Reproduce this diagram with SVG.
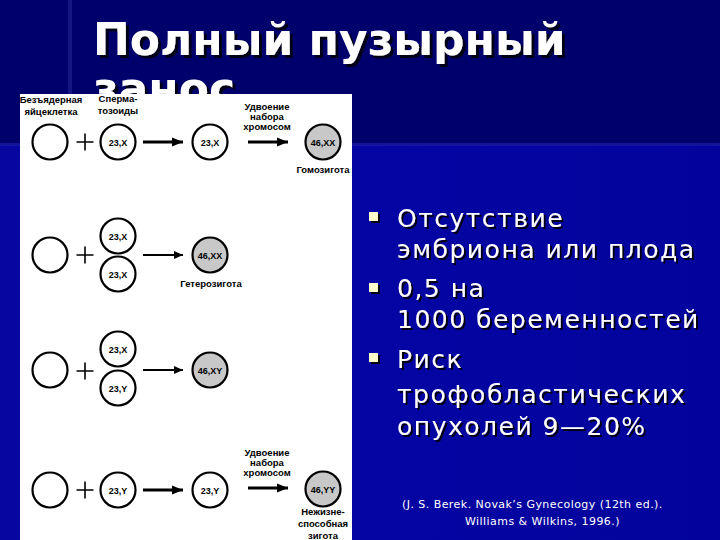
<svg xmlns="http://www.w3.org/2000/svg" width="720" height="540" viewBox="0 0 720 540">
<defs>
<style>
.t{font-family:"Liberation Sans",Arial,sans-serif;font-weight:bold;font-size:9.5px;fill:#000;text-anchor:middle}
.c{font-family:"Liberation Sans",Arial,sans-serif;font-weight:bold;font-size:9px;fill:#000;text-anchor:middle}
.cell{fill:#fff;stroke:#000;stroke-width:2.2}
.z{fill:#c8c8c8;stroke:#000;stroke-width:2.2}
.plus{stroke:#000;stroke-width:1.6}
.thick{stroke:#000;stroke-width:3;fill:none}
.thin{stroke:#000;stroke-width:2;fill:none}
.title{font-family:"DejaVu Sans",Verdana,sans-serif;font-weight:bold;font-size:44px;fill:#fff}
.b{font-family:"DejaVu Sans",Verdana,sans-serif;font-size:25px;fill:#fff;letter-spacing:1.5px}
.ref{font-family:"DejaVu Sans",Verdana,sans-serif;font-size:11px;fill:#fff;letter-spacing:0.45px}
</style>
<filter id="sh" x="-5%" y="-20%" width="115%" height="150%">
<feDropShadow dx="3" dy="3" stdDeviation="0.6" flood-color="#000010" flood-opacity="0.9"/>
</filter>
<filter id="sh2" x="-5%" y="-20%" width="115%" height="150%">
<feDropShadow dx="2" dy="2" stdDeviation="0.4" flood-color="#000" flood-opacity="0.9"/>
</filter>
<clipPath id="above"><rect x="0" y="0" width="720" height="94"/></clipPath>
<marker id="ah" markerUnits="userSpaceOnUse" markerWidth="12" markerHeight="10" refX="11" refY="5" orient="auto">
<polygon points="0,0.5 11,5 0,9.5" fill="#000"/>
</marker>
<marker id="ah2" markerUnits="userSpaceOnUse" markerWidth="10" markerHeight="9" refX="9" refY="4.5" orient="auto">
<polygon points="0,0.5 9,4.5 0,8.5" fill="#000"/>
</marker>
<linearGradient id="low" x1="0" y1="0" x2="1" y2="0">
<stop offset="0" stop-color="#0707a0"/>
<stop offset="0.5" stop-color="#0505a4"/>
<stop offset="1" stop-color="#03039c"/>
</linearGradient>
</defs>

<g id="background">
<rect x="0" y="0" width="720" height="540" fill="url(#low)"/>
<rect x="0" y="0" width="720" height="145" fill="#00006c"/>
<rect x="68" y="0" width="4" height="145" fill="#1a1a8a" opacity="0.8"/>
<rect x="0" y="143" width="720" height="3" fill="#2020b0" opacity="0.6"/>
</g>

<g id="title" filter="url(#sh)">
<text class="title" x="93" y="55">Полный пузырный</text>
<text class="title" x="93" y="104" clip-path="url(#above)">занос</text>
</g>

<rect id="panel" x="20" y="94" width="332" height="446" fill="#fff"/>

<g id="labels">
<text class="t" x="51" y="103">Безъядерная</text>
<text class="t" x="51" y="115">яйцеклетка</text>
<text class="t" x="118" y="102">Сперма-</text>
<text class="t" x="118" y="114">тозоиды</text>
<text class="t" x="267" y="110">Удвоение</text>
<text class="t" x="267" y="120">набора</text>
<text class="t" x="267" y="130">хромосом</text>
<text class="t" x="323" y="173">Гомозигота</text>
<text class="t" x="211" y="287">Гетерозигота</text>
<text class="t" x="267" y="456">Удвоение</text>
<text class="t" x="267" y="466">набора</text>
<text class="t" x="267" y="476">хромосом</text>
<text class="t" x="323" y="515">Нежизне-</text>
<text class="t" x="323" y="527">способная</text>
<text class="t" x="323" y="539">зигота</text>
</g>

<g id="row1">
<g id="egg1"><circle class="cell" cx="50" cy="142" r="17.5"/></g>
<g id="plus1"><path class="plus" d="M76.5,142H93.5M85,133.5V150.5"/></g>
<g id="sp1"><circle class="cell" cx="118" cy="142" r="17.5"/><text class="c" x="118" y="145.5">23,X</text></g>
<g id="hap1"><circle class="cell" cx="210" cy="142" r="17.5"/><text class="c" x="210" y="145.5">23,X</text></g>
<g id="zyg1"><circle class="z" cx="323" cy="142" r="17.5"/><text class="c" x="323" y="145.5">46,XX</text></g>
</g>

<g id="row2">
<g id="egg2"><circle class="cell" cx="50" cy="255" r="17.5"/></g>
<g id="plus2"><path class="plus" d="M76.5,255H93.5M85,246.5V263.5"/></g>
<g id="sp2a"><circle class="cell" cx="118" cy="236" r="17.5"/><text class="c" x="118" y="239.5">23,X</text></g>
<g id="sp2b"><circle class="cell" cx="118" cy="274" r="17.5"/><text class="c" x="118" y="277.5">23,X</text></g>
<g id="zyg2"><circle class="z" cx="210" cy="255" r="17.5"/><text class="c" x="210" y="258.5">46,XX</text></g>
</g>

<g id="row3">
<g id="egg3"><circle class="cell" cx="50" cy="370" r="17.5"/></g>
<g id="plus3"><path class="plus" d="M76.5,371H93.5M85,362.5V379.5"/></g>
<g id="sp3a"><circle class="cell" cx="118" cy="349" r="17.5"/><text class="c" x="118" y="352.5">23,X</text></g>
<g id="sp3b"><circle class="cell" cx="118" cy="388" r="17.5"/><text class="c" x="118" y="391.5">23,Y</text></g>
<g id="zyg3"><circle class="z" cx="210" cy="370" r="17.5"/><text class="c" x="210" y="373.5">46,XY</text></g>
</g>

<g id="row4">
<g id="egg4"><circle class="cell" cx="50" cy="490" r="17.5"/></g>
<g id="plus4"><path class="plus" d="M76.5,490H93.5M85,481.5V498.5"/></g>
<g id="sp4"><circle class="cell" cx="118" cy="490" r="17.5"/><text class="c" x="118" y="493.5">23,Y</text></g>
<g id="hap4"><circle class="cell" cx="210" cy="490" r="17.5"/><text class="c" x="210" y="493.5">23,Y</text></g>
<g id="zyg4"><circle class="z" cx="323" cy="489" r="17.5"/><text class="c" x="323" y="492.5">46,YY</text></g>
</g>

<g id="connectors">
<line class="thick" x1="143" y1="142" x2="183" y2="142" marker-end="url(#ah)"/>
<line class="thick" x1="248" y1="142" x2="288" y2="142" marker-end="url(#ah)"/>
<line class="thin" x1="143" y1="255" x2="183" y2="255" marker-end="url(#ah2)"/>
<line class="thin" x1="143" y1="370" x2="183" y2="370" marker-end="url(#ah2)"/>
<line class="thick" x1="143" y1="490" x2="183" y2="490" marker-end="url(#ah)"/>
<line class="thick" x1="248" y1="488" x2="288" y2="488" marker-end="url(#ah)"/>
</g>

<g id="bullets" filter="url(#sh2)">
<rect x="369" y="212" width="9" height="9" fill="#ffffcc"/>
<rect x="369" y="283" width="9" height="9" fill="#ffffcc"/>
<rect x="369" y="353" width="9" height="9" fill="#ffffcc"/>
<text class="b" x="397" y="227">Отсутствие</text>
<text class="b" x="397" y="258">эмбриона или плода</text>
<text class="b" x="397" y="297">0,5 на</text>
<text class="b" x="397" y="328">1000 беременностей</text>
<text class="b" x="397" y="368">Риск</text>
<text class="b" x="397" y="403">трофобластических</text>
<text class="b" x="397" y="435">опухолей 9—20%</text>
</g>

<g id="citation">
<text class="ref" x="402" y="508">(J. S. Berek. Novak’s Gynecology (12th ed.).</text>
<text class="ref" x="465" y="525">Williams &amp; Wilkins, 1996.)</text>
</g>
</svg>
